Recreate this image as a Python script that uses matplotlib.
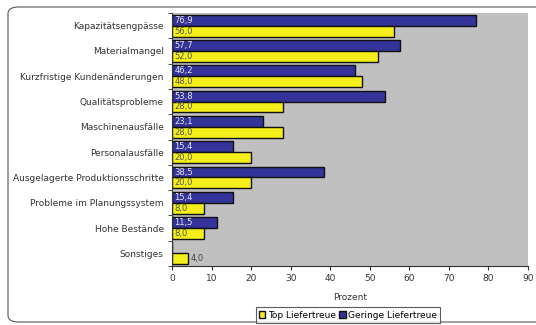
import matplotlib
matplotlib.use("Agg")
import matplotlib.pyplot as plt
from matplotlib.patches import FancyBboxPatch
import numpy as np

categories = ["Kapazitätsengpässe", "Materialmangel", "Kurzfristige Kundenänderungen",
              "Qualitätsprobleme", "Maschinenausfälle", "Personalausfälle",
              "Ausgelagerte Produktionsschritte", "Probleme im Planungssystem",
              "Hohe Bestände", "Sonstiges"]
geringe = [76.9, 57.7, 46.2, 53.8, 23.1, 15.4, 38.5, 15.4, 11.5, 0.0]
top = [56.0, 52.0, 48.0, 28.0, 28.0, 20.0, 20.0, 8.0, 8.0, 4.0]
xticks = [0, 10, 20, 30, 40, 50, 60, 70, 80, 90]

def fmt(v):
    return f"{v:.1f}".replace(".", ",")

fig = plt.figure(figsize=(5.36, 3.25), dpi=100)
fig.patch.set_facecolor("white")
border = FancyBboxPatch((8/536, 3/325), 540/536, 315/325, boxstyle="round,pad=0,rounding_size=0.02",
                        transform=fig.transFigure, fill=False, edgecolor="#555555", linewidth=0.8)
fig.patches.append(border)

ax = fig.add_axes([172/536, 1-266/325, 356/536, 253/325])
ax.set_facecolor("#C0C0C0")

y = np.arange(len(categories))
h = 0.43
blue = "#333399"
yellow = "#F4EE1A"
ax.barh(y - h/2, geringe, height=h, color=blue, edgecolor="#111111", linewidth=1.0, label="Geringe Liefertreue")
ax.barh(y + h/2, top, height=h, color=yellow, edgecolor="#111111", linewidth=1.0, label="Top Liefertreue")

for i in range(len(categories)):
    if geringe[i] > 0:
        ax.text(0.6, y[i] - h/2, fmt(geringe[i]), color="#E8E8F0", fontsize=6, va="center", ha="left")
    if top[i] > 5:
        ax.text(0.6, y[i] + h/2, fmt(top[i]), color="#555555", fontsize=6, va="center", ha="left")
    else:
        ax.text(top[i] + 0.8, y[i] + h/2, fmt(top[i]), color="#444444", fontsize=6, va="center", ha="left")

ax.set_xlim(0, 90)
ax.set_ylim(len(categories) - 0.5, -0.5)
ax.set_xticks(xticks)
ax.set_xticklabels([str(t) for t in xticks], fontsize=6.5, color="#333333")
ax.set_yticks(y)
ax.set_yticklabels(categories, fontsize=6.5, color="#333333")
ax.set_yticks(np.arange(-0.5, len(categories), 1), minor=True)
ax.tick_params(axis="y", which="major", length=0, pad=6)
ax.tick_params(axis="y", which="minor", length=3, color="#333333")
ax.tick_params(axis="x", length=3, color="#333333", pad=3)
for s in ["top", "right"]:
    ax.spines[s].set_visible(False)
ax.spines["left"].set_color("#333333")
ax.spines["bottom"].set_color("#333333")
ax.spines["left"].set_linewidth(0.8)
ax.spines["bottom"].set_linewidth(0.8)
ax.set_xlabel("Prozent", fontsize=6.5, color="#333333", labelpad=7)

handles, labels = ax.get_legend_handles_labels()
leg = fig.legend([handles[1], handles[0]], [labels[1], labels[0]], loc="center",
                 bbox_to_anchor=(348/536, 1-315/325), ncol=2, fontsize=6.5, frameon=True,
                 fancybox=False, edgecolor="#333333", handlelength=0.7, handleheight=0.7,
                 handletextpad=0.3, columnspacing=0.4, borderpad=0.35)
leg.get_frame().set_linewidth(0.8)

fig.savefig("out.png", dpi=100)
